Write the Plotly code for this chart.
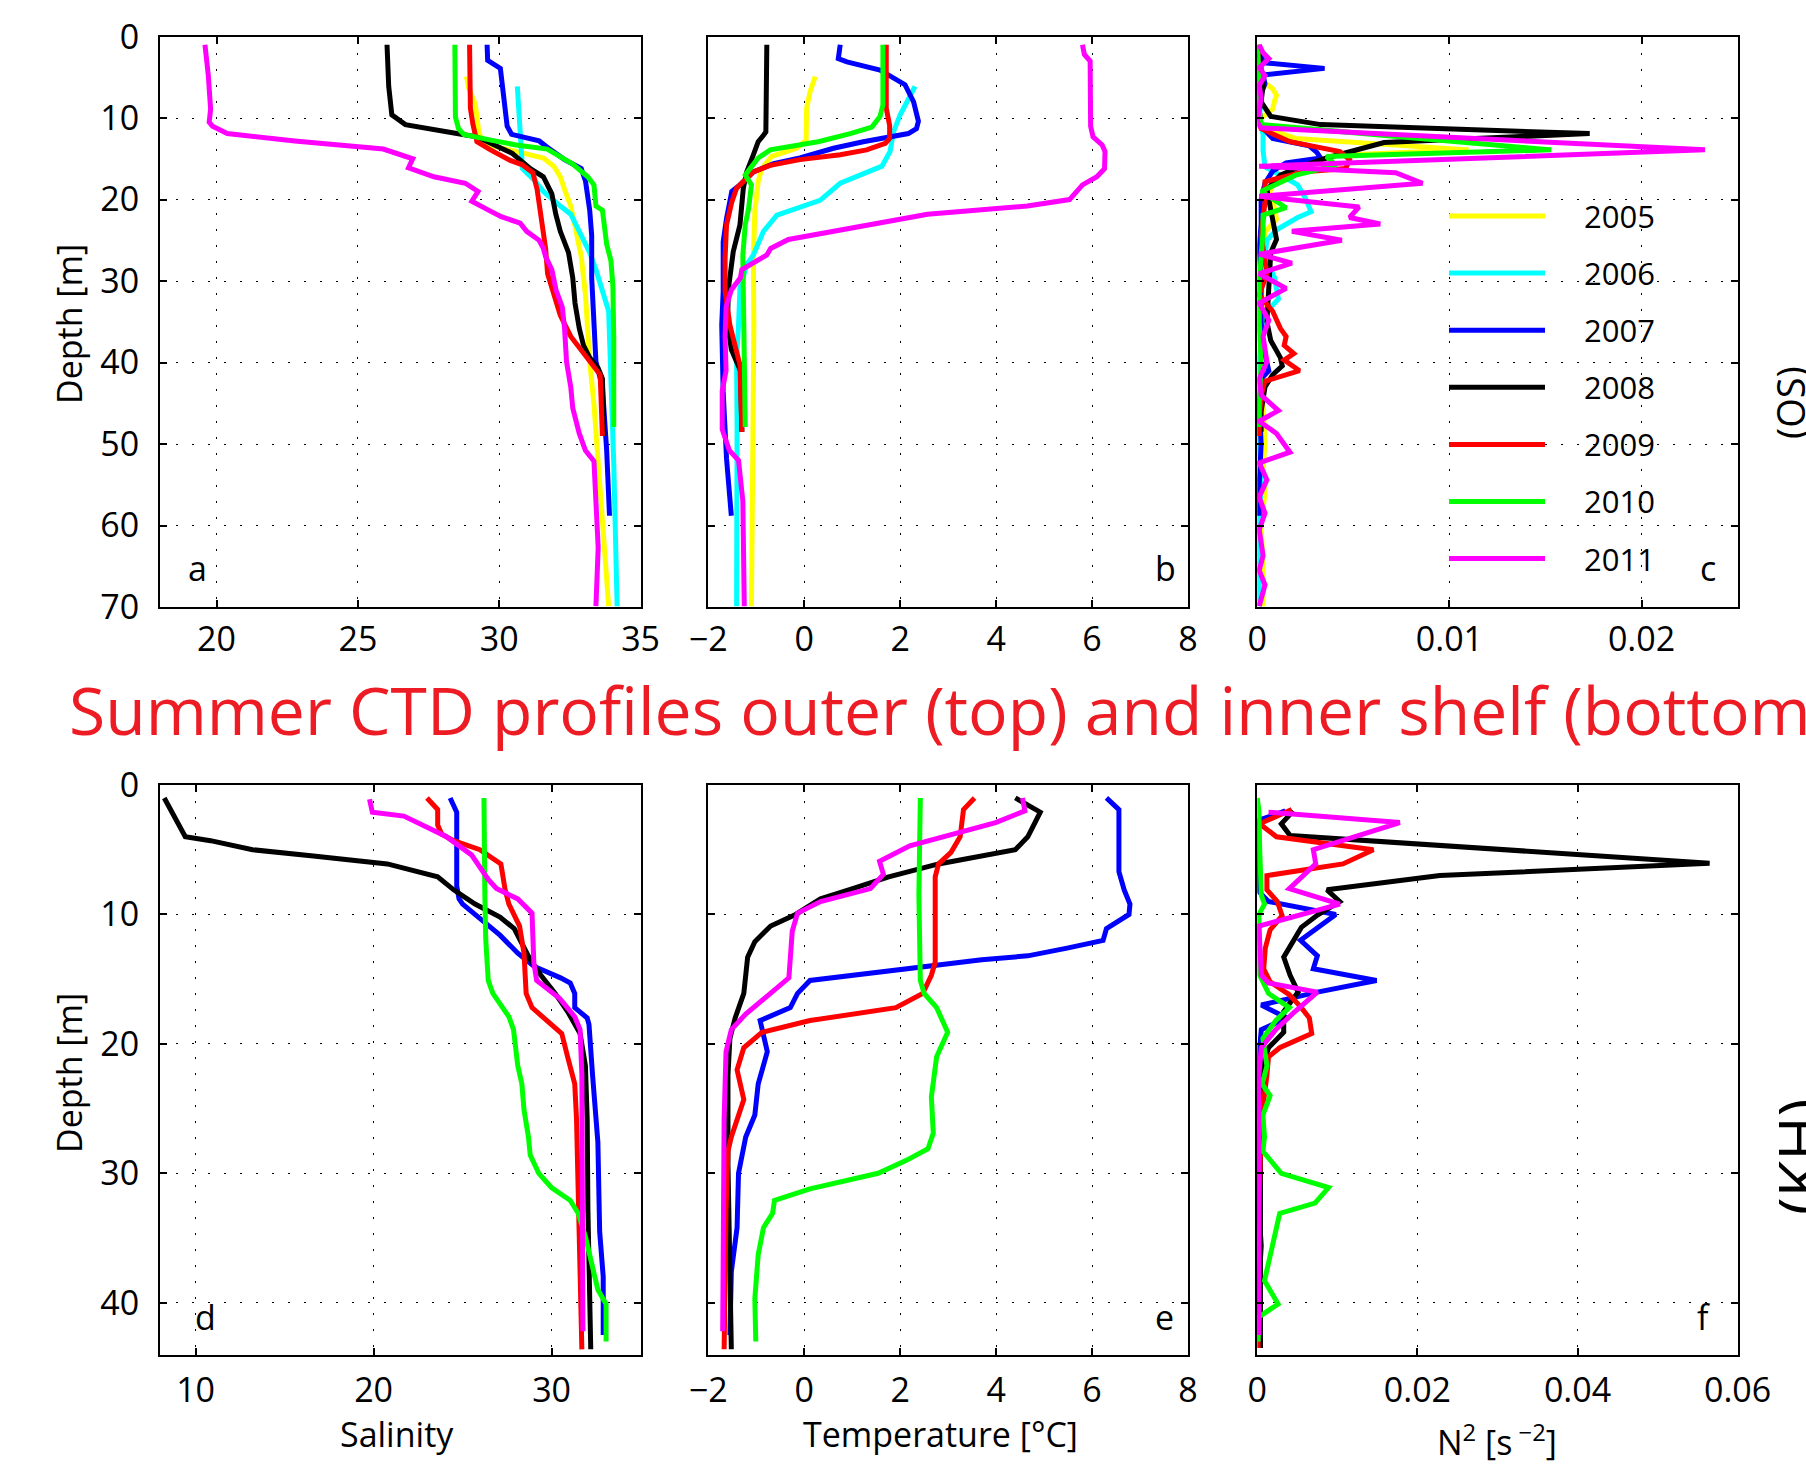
import plotly.graph_objects as go

# ---------------------------------------------------------------------------
# Summer CTD profiles, outer shelf (OS, top row) and inner shelf (KH, bottom)
# Each profile is a list of [depth (m), value] pairs.
# ---------------------------------------------------------------------------

YEARS_OS = [2005, 2006, 2007, 2008, 2009, 2010, 2011]
YEARS_KH = [2007, 2008, 2009, 2010, 2011]
YEAR_COLORS = {2005: "#ffff00", 2006: "#00ffff", 2007: "#0000ff", 2008: "#000000",
               2009: "#ff0000", 2010: "#00ff00", 2011: "#ff00ff"}

# ---- outer shelf: salinity ----
os_sal_2005 = [[4.9, 28.84], [6.3, 28.92], [8.3, 29.15], [11.5, 29.27], [13.1, 29.4], [14.1, 30.67],
               [14.9, 31.56], [15.9, 31.93], [17.2, 32.16], [18.75, 32.31], [20.8, 32.53], [24.4, 32.75],
               [27.0, 32.9], [31.7, 33.05], [39.9, 33.2], [45.1, 33.35], [52.3, 33.5], [60.0, 33.68],
               [69.9, 33.87]]
os_sal_2006 = [[6.1, 30.64], [12.0, 30.74], [16.2, 30.82], [17.7, 31.26], [19.0, 31.56], [20.8, 32.16],
               [21.8, 32.53], [24.4, 32.9], [26.5, 33.2], [28.6, 33.42], [31.7, 33.72], [33.7, 33.87],
               [42.0, 33.95], [52.3, 34.05], [69.9, 34.17]]
os_sal_2007 = [[1.0, 29.57], [2.9, 29.59], [3.9, 30.04], [5.6, 30.1], [8.8, 30.22], [11.0, 30.28],
               [12.0, 30.44], [12.8, 31.41], [13.6, 31.71], [15.1, 32.31], [16.2, 32.9], [17.7, 33.05],
               [21.3, 33.2], [24.4, 33.27], [29.6, 33.27], [36.8, 33.35], [39.9, 33.42], [43.0, 33.65],
               [50.8, 33.8], [58.8, 33.9]]
os_sal_2008 = [[1.0, 26.03], [6.1, 26.09], [9.6, 26.2], [10.8, 26.68], [11.9, 28.5], [12.3, 29.2],
               [14.3, 30.45], [16.2, 31.1], [17.2, 31.56], [19.3, 31.86], [21.8, 32.0], [23.9, 32.16],
               [26.5, 32.45], [29.6, 32.6], [32.7, 32.68], [35.8, 32.83], [37.9, 32.98], [39.4, 33.2],
               [40.7, 33.5], [42.0, 33.65], [49.0, 33.7]]
os_sal_2009 = [[1.0, 28.95], [8.8, 28.98], [10.8, 29.07], [12.9, 29.21], [13.9, 29.69], [15.2, 30.39],
               [15.7, 30.8], [16.7, 31.19], [18.75, 31.34], [22.4, 31.49], [26.0, 31.64], [29.1, 31.71],
               [31.7, 31.93], [34.2, 32.16], [36.8, 32.53], [38.9, 32.98], [40.4, 33.35], [41.5, 33.57],
               [49.0, 33.65]]
os_sal_2010 = [[1.0, 28.43], [9.9, 28.45], [11.3, 28.56], [12.0, 28.75], [12.7, 29.7], [13.3, 30.6],
               [13.8, 31.7], [15.65, 32.6], [17.2, 33.13], [18.2, 33.35], [20.8, 33.42], [21.3, 33.65],
               [25.5, 33.8], [27.5, 33.95], [30.6, 34.02], [36.8, 34.05], [47.9, 34.05]]
os_sal_2011 = [[1.0, 19.59], [4.8, 19.71], [8.9, 19.79], [10.5, 19.74], [11.0, 19.86], [11.9, 20.38],
               [12.8, 22.77], [13.8, 25.9], [15.0, 26.94], [16.1, 26.79], [17.2, 27.69], [18.0, 28.8],
               [19.0, 29.25], [20.2, 29.03], [21.3, 29.62], [22.1, 30.07], [22.9, 30.74], [23.9, 30.97],
               [25.0, 31.41], [26.0, 31.56], [27.0, 31.64], [28.6, 31.86], [31.1, 32.01], [33.2, 32.23],
               [35.8, 32.31], [39.9, 32.38], [43.0, 32.53], [45.6, 32.6], [48.7, 32.83], [50.8, 33.05],
               [52.1, 33.35], [57.5, 33.42], [62.7, 33.5], [69.9, 33.42]]

# ---- outer shelf: temperature (deg C) ----
os_tem_2005 = [[4.9, 0.23], [6.8, 0.12], [8.8, 0.05], [12.7, 0.04], [13.7, -0.16], [14.7, -0.68],
               [16.2, -0.89], [17.8, -0.96], [21.5, -1.03], [27.2, -1.06], [35.4, -1.05], [43.6, -1.06],
               [55.0, -1.07], [69.9, -1.1]]
os_tem_2006 = [[6.1, 2.31], [9.6, 2.0], [11.7, 1.86], [14.1, 1.79], [15.9, 1.62], [18.0, 0.75],
               [20.1, 0.33], [21.9, -0.57], [23.9, -0.85], [26.8, -1.06], [28.0, -1.2], [30.9, -1.34],
               [35.4, -1.37], [39.5, -1.41], [47.6, -1.4], [69.9, -1.41]]
os_tem_2007 = [[1.0, 0.75], [2.7, 0.71], [3.1, 0.89], [4.1, 1.58], [5.9, 2.1], [8.0, 2.28], [10.4, 2.38],
               [11.3, 2.34], [11.9, 2.17], [12.5, 1.51], [12.9, 1.23], [13.7, 0.61], [14.9, -0.09],
               [15.6, -0.64], [16.6, -1.06], [18.2, -1.34], [19.0, -1.51], [22.3, -1.62], [25.2, -1.69],
               [31.3, -1.69], [35.4, -1.72], [43.6, -1.69], [51.8, -1.62], [58.8, -1.52]]
os_tem_2008 = [[1.0, -0.78], [11.7, -0.8], [12.1, -0.85], [12.9, -0.96], [14.5, -1.06], [16.6, -1.2],
               [18.6, -1.27], [23.1, -1.34], [26.4, -1.48], [30.9, -1.58], [35.0, -1.6], [38.4, -1.52],
               [39.9, -1.41], [41.0, -1.33], [48.5, -1.3]]
os_tem_2009 = [[1.0, 1.71], [8.8, 1.71], [10.9, 1.78], [12.5, 1.78], [13.1, 1.69], [13.9, 1.3],
               [14.5, 0.75], [15.1, -0.09], [15.8, -0.71], [16.6, -1.06], [17.4, -1.2], [18.6, -1.41],
               [20.3, -1.51], [23.1, -1.62], [27.2, -1.65], [31.3, -1.65], [35.4, -1.55], [37.8, -1.44],
               [40.3, -1.34], [48.5, -1.3]]
os_tem_2010 = [[1.0, 1.64], [8.4, 1.64], [9.8, 1.58], [11.1, 1.41], [11.9, 0.96], [12.9, 0.29],
               [13.9, -0.71], [14.9, -0.96], [16.2, -1.13], [17.0, -1.23], [18.2, -1.1], [21.1, -1.16],
               [23.1, -1.23], [26.8, -1.28], [31.3, -1.27], [39.5, -1.25], [47.9, -1.23]]
os_tem_2011 = [[1.0, 5.8], [2.2, 5.84], [3.0, 5.96], [11.0, 5.97], [12.3, 6.02], [13.3, 6.21],
               [14.1, 6.27], [16.2, 6.26], [17.2, 6.1], [18.2, 5.8], [20.0, 5.53], [20.8, 4.65],
               [21.8, 2.57], [23.4, 1.08], [24.9, -0.33], [26.0, -0.7], [26.8, -0.78], [28.6, -1.3],
               [29.6, -1.33], [31.1, -1.52], [33.2, -1.63], [36.8, -1.65], [41.0, -1.63], [43.5, -1.71],
               [48.2, -1.71], [50.8, -1.56], [52.0, -1.37], [57.0, -1.28], [69.9, -1.25]]

# ---- outer shelf: buoyancy frequency squared N^2 (s^-2) ----
os_n2_2005 = [[4.5, 0.0], [5.5, 0.0003], [6.4, 0.0008], [7.2, 0.001], [7.9, 0.0009], [8.9, 0.0008],
              [10.0, 0.0002], [11.0, 0.0001], [12.5, 0.002], [13.9, 0.011], [14.6, 0.004], [15.8, 0.0025],
              [17.2, 0.0018], [18.0, 0.0008], [19.5, 0.0006], [21.0, 0.0009], [22.4, 0.001], [24.0, 0.0004],
              [26.0, 0.0003], [30.0, 0.0002], [35.0, 0.0003], [40.0, 0.0002], [45.0, 0.0003], [50.0, 0.0004],
              [53.0, 0.0003], [56.0, 0.0004], [60.0, 0.0002], [65.0, 0.0003], [69.9, 0.0003]]
os_n2_2006 = [[6.5, 0.0001], [8.0, 0.0002], [10.0, 0.0001], [12.0, 0.0003], [14.0, 0.0003], [16.0, 0.0004],
              [17.0, 0.0012], [18.2, 0.0021], [19.8, 0.0025], [21.5, 0.0028], [22.2, 0.0021], [23.7, 0.001],
              [25.0, 0.0005], [27.0, 0.0004], [29.6, 0.0009], [32.2, 0.0011], [34.0, 0.0004], [37.0, 0.0002],
              [40.0, 0.0001], [45.0, 0.0002], [50.0, 0.0001], [55.0, 0.0002], [60.0, 0.0001], [65.0, 0.0001],
              [69.9, 0.0001]]
os_n2_2007 = [[2.0, 0.0002], [3.2, 0.0003], [3.9, 0.0035], [4.7, 0.0003], [5.8, 0.0004], [7.0, 0.0002],
              [9.0, 0.0001], [11.0, 0.0002], [12.5, 0.0008], [13.4, 0.0027], [14.2, 0.0031], [14.9, 0.0033],
              [15.5, 0.0015], [16.5, 0.0008], [18.0, 0.0004], [20.0, 0.0002], [23.0, 0.0002], [26.0, 0.0001],
              [30.0, 0.0002], [35.0, 0.0002], [38.0, 0.0003], [41.0, 0.0006], [42.0, 0.0002], [45.0, 0.0001],
              [50.0, 0.0002], [55.0, 0.0001], [58.8, 0.0001]]
os_n2_2008 = [[2.0, 0.0001], [4.0, 0.0002], [6.0, 0.0003], [8.0, 0.0002], [9.8, 0.0007], [10.8, 0.0033],
              [11.9, 0.0173], [13.0, 0.0066], [14.9, 0.0036], [16.0, 0.0022], [17.0, 0.0012], [18.8, 0.0005],
              [21.5, 0.0007], [23.0, 0.0008], [24.9, 0.001], [26.5, 0.0007], [31.7, 0.0006], [35.0, 0.0005],
              [37.3, 0.0007], [39.4, 0.0012], [40.4, 0.0013], [41.5, 0.0008], [43.0, 0.0004], [46.0, 0.0002],
              [48.5, 0.0002]]
os_n2_2009 = [[1.0, 0.0], [5.0, 0.0001], [9.0, 0.0001], [11.3, 0.0002], [12.9, 0.0017], [14.1, 0.0043],
              [15.1, 0.0048], [16.2, 0.0046], [16.6, 0.0024], [17.8, 0.0004], [20.3, 0.0004], [24.4, 0.0002],
              [29.1, 0.0005], [31.7, 0.0001], [33.7, 0.0008], [35.8, 0.0012], [36.8, 0.0015], [37.9, 0.0014],
              [38.9, 0.0019], [39.7, 0.0014], [41.0, 0.0022], [42.3, 0.0004], [44.0, 0.0002], [47.0, 0.0001],
              [49.0, 0.0001]]
os_n2_2010 = [[1.0, 0.0], [5.0, 0.0001], [9.0, 0.0001], [10.8, 0.0002], [13.9, 0.0153], [14.7, 0.0036],
              [15.8, 0.0041], [17.0, 0.002], [19.0, 0.0002], [21.0, 0.0015], [21.9, 0.0003], [24.0, 0.0003],
              [27.0, 0.0002], [30.0, 0.0001], [35.0, 0.0001], [40.0, 0.0002], [45.0, 0.0001], [47.9, 0.0001]]
os_n2_2011 = [[1.0, 0.0001], [2.0, 0.0003], [2.7, 0.0006], [3.8, 0.0001], [4.8, 0.0004], [6.0, 0.0001],
              [7.5, 0.0002], [9.0, 0.0001], [10.5, 0.0], [11.2, 0.0002], [13.9, 0.0233], [15.9, 0.0001],
              [16.7, 0.0072], [18.0, 0.0086], [19.6, 0.0001], [20.9, 0.0053], [22.2, 0.0048], [23.0, 0.0064],
              [23.9, 0.0018], [25.0, 0.0044], [26.7, 0.0001], [27.8, 0.0018], [29.1, 0.0001], [30.9, 0.0015],
              [32.7, 0.0001], [34.8, 0.0006], [36.8, 0.0003], [39.9, 0.0005], [42.0, 0.0001], [44.0, 0.0002],
              [45.9, 0.0011], [47.2, 0.0001], [48.7, 0.001], [51.0, 0.0017], [52.3, 0.0001], [54.4, 0.0005],
              [56.5, 0.0001], [58.5, 0.0004], [60.5, 0.0001], [63.7, 0.0003], [65.5, 0.0001], [67.3, 0.0004],
              [69.9, 0.0001]]

# ---- inner shelf: salinity ----
kh_sal_2007 = [[1.0, 24.3], [2.1, 24.67], [7.8, 24.67], [8.8, 24.8], [9.2, 25.0], [10.6, 26.2],
               [11.6, 27.1], [13.0, 28.1], [14.0, 29.0], [14.9, 30.5], [15.3, 31.05], [16.1, 31.3],
               [17.2, 31.3], [18.0, 32.0], [18.5, 32.1], [22.4, 32.3], [25.5, 32.5], [27.6, 32.6],
               [34.5, 32.7], [38.0, 32.9], [42.5, 32.9]]
kh_sal_2008 = [[1.0, 8.24], [2.9, 8.95], [4.0, 9.42], [4.3, 10.84], [5.0, 13.2], [5.5, 16.75],
               [6.1, 20.77], [7.1, 23.6], [8.1, 24.5], [9.2, 25.7], [10.2, 27.1], [11.1, 27.9],
               [13.5, 28.8], [14.7, 29.4], [16.1, 30.2], [17.5, 30.9], [19.2, 31.6], [21.7, 31.9],
               [25.8, 32.0], [32.8, 32.04], [39.7, 32.1], [43.6, 32.2]]
kh_sal_2009 = [[1.0, 23.0], [1.9, 23.6], [3.1, 23.6], [3.8, 23.83], [4.3, 24.5], [5.0, 25.97],
               [6.1, 27.15], [8.1, 27.39], [9.2, 27.6], [10.9, 28.2], [13.0, 28.45], [16.1, 28.57],
               [17.2, 28.9], [18.2, 29.75], [19.2, 30.57], [21.0, 30.9], [23.1, 31.3], [25.8, 31.4],
               [32.8, 31.5], [43.6, 31.7]]
kh_sal_2010 = [[1.0, 26.2], [6.4, 26.2], [8.5, 26.25], [11.9, 26.3], [15.1, 26.44], [16.1, 26.7],
               [17.2, 27.3], [17.9, 27.6], [18.9, 27.86], [21.7, 28.1], [23.1, 28.33], [25.1, 28.45],
               [27.2, 28.7], [28.6, 28.8], [30.0, 29.28], [31.1, 29.99], [32.1, 31.05], [33.1, 31.5],
               [34.9, 31.9], [37.3, 32.35], [39.0, 32.6], [40.1, 33.06], [43.0, 33.06]]
kh_sal_2011 = [[1.1, 19.77], [2.1, 19.93], [2.4, 21.7], [3.97, 24.07], [5.4, 25.5], [7.3, 26.44],
               [8.0, 26.9], [8.8, 28.1], [9.9, 28.9], [13.7, 29.0], [15.1, 29.16], [16.5, 30.46],
               [17.9, 31.3], [18.9, 31.6], [22.4, 31.7], [32.8, 31.76], [42.2, 31.76]]

# ---- inner shelf: temperature (deg C) ----
kh_tem_2007 = [[1.0, 6.3], [1.9, 6.56], [6.7, 6.56], [8.1, 6.67], [9.2, 6.79], [10.0, 6.77], [11.1, 6.3],
               [12.0, 6.23], [12.6, 5.48], [13.2, 4.66], [13.5, 3.7], [14.2, 2.2], [15.1, 0.12],
               [16.1, -0.14], [17.2, -0.29], [18.2, -0.92], [19.2, -0.85], [20.6, -0.77], [23.1, -0.96],
               [25.5, -1.03], [27.2, -1.22], [30.0, -1.37], [34.2, -1.4], [37.6, -1.52], [42.5, -1.55]]
kh_tem_2008 = [[1.0, 4.4], [2.1, 4.92], [4.0, 4.66], [5.0, 4.4], [6.1, 2.8], [7.1, 1.76], [8.0, 1.01],
               [8.8, 0.34], [10.0, -0.18], [10.9, -0.7], [12.1, -1.03], [13.3, -1.18], [16.1, -1.26],
               [18.0, -1.44], [19.6, -1.55], [22.4, -1.59], [29.3, -1.59], [36.3, -1.55], [43.6, -1.52]]
kh_tem_2009 = [[1.0, 3.55], [1.9, 3.32], [4.0, 3.25], [5.2, 3.06], [6.1, 2.8], [7.1, 2.73], [11.3, 2.73],
               [13.7, 2.73], [14.7, 2.65], [16.1, 2.47], [17.2, 1.91], [18.2, 0.12], [19.1, -0.88],
               [20.3, -1.26], [22.0, -1.4], [24.3, -1.26], [27.2, -1.52], [28.3, -1.59], [32.8, -1.63],
               [43.6, -1.67]]
kh_tem_2010 = [[1.0, 2.42], [8.5, 2.39], [15.1, 2.42], [16.1, 2.5], [17.2, 2.76], [19.1, 2.99],
               [21.0, 2.76], [24.1, 2.65], [26.9, 2.69], [28.1, 2.58], [29.0, 2.13], [30.0, 1.54],
               [31.2, 0.12], [32.1, -0.62], [33.1, -0.66], [34.2, -0.85], [36.3, -0.96], [39.7, -1.03],
               [43.0, -1.01]]
kh_tem_2011 = [[1.0, 4.55], [2.0, 4.6], [2.9, 3.99], [4.0, 2.87], [4.7, 2.2], [5.9, 1.57], [6.9, 1.65],
               [8.0, 1.38], [9.0, 0.34], [9.9, -0.14], [11.3, -0.25], [14.9, -0.32], [16.1, -0.7],
               [17.7, -1.22], [18.9, -1.52], [20.6, -1.63], [25.8, -1.67], [32.8, -1.68], [42.2, -1.7]]

# ---- inner shelf: N^2 (s^-2) ----
kh_n2_2007 = [[2.0, 0.0035], [2.7, 0.0003], [3.5, 0.0001], [5.0, 0.0001], [7.0, 0.0001], [8.3, 0.0003],
              [9.0, 0.0014], [10.0, 0.0098], [12.0, 0.0054], [13.2, 0.0075], [14.2, 0.007], [15.1, 0.0149],
              [16.0, 0.0075], [17.0, 0.0005], [18.0, 0.0037], [18.9, 0.0005], [20.3, 0.0003], [23.0, 0.0002],
              [26.0, 0.0003], [30.0, 0.0002], [33.0, 0.0002], [35.6, 0.0005], [37.5, 0.0003], [40.0, 0.0002],
              [42.5, 0.0002]]
kh_n2_2008 = [[2.0, 0.0045], [3.0, 0.003], [3.9, 0.0041], [6.05, 0.0565], [7.0, 0.0228], [8.1, 0.0087],
              [9.0, 0.0103], [10.1, 0.0074], [11.0, 0.0055], [12.1, 0.0045], [13.3, 0.0033], [14.7, 0.0041],
              [16.0, 0.0051], [17.5, 0.0033], [19.1, 0.0033], [20.3, 0.0014], [21.7, 0.0007], [23.1, 0.0004],
              [30.0, 0.0004], [37.0, 0.0003], [43.5, 0.0004]]
kh_n2_2009 = [[1.9, 0.0043], [3.0, 0.0003], [4.0, 0.0024], [5.0, 0.0145], [6.1, 0.0107], [7.0, 0.0012],
              [8.1, 0.0012], [9.0, 0.0025], [10.1, 0.0031], [11.2, 0.0016], [12.6, 0.001], [14.2, 0.0008],
              [15.2, 0.0016], [16.2, 0.004], [17.2, 0.0055], [18.0, 0.0065], [19.2, 0.0068], [20.3, 0.0028],
              [21.0, 0.0014], [22.4, 0.0012], [25.9, 0.0005], [32.8, 0.0002], [43.5, 0.0001]]
kh_n2_2010 = [[1.0, 0.0], [2.0, 0.0002], [5.0, 0.0003], [8.5, 0.0005], [9.2, 0.0009], [10.0, 0.0002],
              [14.7, 0.0003], [16.1, 0.0014], [17.2, 0.004], [18.2, 0.0023], [19.6, 0.0007], [21.7, 0.0012],
              [23.1, 0.0006], [24.0, 0.0016], [25.5, 0.0007], [27.2, 0.0009], [28.3, 0.0007], [30.0, 0.003],
              [31.1, 0.0089], [32.3, 0.0072], [33.1, 0.0028], [35.6, 0.0019], [37.3, 0.0012], [38.3, 0.0009],
              [40.1, 0.0026], [41.1, 0.0002], [43.0, 0.0001]]
kh_n2_2011 = [[2.1, 0.0014], [2.9, 0.0178], [5.0, 0.007], [6.1, 0.0073], [8.0, 0.004], [9.2, 0.0103],
              [10.9, 0.0002], [14.7, 0.0005], [15.3, 0.0014], [16.0, 0.0075], [17.5, 0.0047], [18.9, 0.0023],
              [20.3, 0.0005], [22.4, 0.0002], [30.0, 0.0002], [42.5, 0.0002]]

# tables used for plotting, one per panel
OS_SAL = {2005: os_sal_2005, 2006: os_sal_2006, 2007: os_sal_2007, 2008: os_sal_2008,
          2009: os_sal_2009, 2010: os_sal_2010, 2011: os_sal_2011}
OS_TEM = {2005: os_tem_2005, 2006: os_tem_2006, 2007: os_tem_2007, 2008: os_tem_2008,
          2009: os_tem_2009, 2010: os_tem_2010, 2011: os_tem_2011}
OS_N2 = {2005: os_n2_2005, 2006: os_n2_2006, 2007: os_n2_2007, 2008: os_n2_2008,
         2009: os_n2_2009, 2010: os_n2_2010, 2011: os_n2_2011}
KH_SAL = {2007: kh_sal_2007, 2008: kh_sal_2008, 2009: kh_sal_2009, 2010: kh_sal_2010, 2011: kh_sal_2011}
KH_TEM = {2007: kh_tem_2007, 2008: kh_tem_2008, 2009: kh_tem_2009, 2010: kh_tem_2010, 2011: kh_tem_2011}
KH_N2 = {2007: kh_n2_2007, 2008: kh_n2_2008, 2009: kh_n2_2009, 2010: kh_n2_2010, 2011: kh_n2_2011}

# ---------------------------------------------------------------------------
# layout geometry (pixels)
# ---------------------------------------------------------------------------
FIG_W, FIG_H = 1806, 1464
COLS = [(160.0, 640.6), (708.3, 1188.0), (1257.3, 1737.6)]
ROWS = [(36.6, 607.0), (785.0, 1354.5)]
FONT = "Open Sans"
TICK_SIZE = 34
LINE_W = 5


def fx(p):
    return p / FIG_W


def fy(p):
    return 1 - p / FIG_H


PANELS = [
    # (axis suffix, column, row, data table, years, x range, dtick, y range)
    ("", 0, 0, OS_SAL, YEARS_OS, [18, 35], 5, [70, 0]),
    ("2", 1, 0, OS_TEM, YEARS_OS, [-2, 8], 2, [70, 0]),
    ("3", 2, 0, OS_N2, YEARS_OS, [0, 0.025], 0.01, [70, 0]),
    ("4", 0, 1, KH_SAL, YEARS_KH, [8, 35], 10, [44, 0]),
    ("5", 1, 1, KH_TEM, YEARS_KH, [-2, 8], 2, [44, 0]),
    ("6", 2, 1, KH_N2, YEARS_KH, [0, 0.06], 0.02, [44, 0]),
]

fig = go.Figure()

axis_common = dict(
    showline=True, linecolor="black", linewidth=2, mirror="ticks",
    ticks="inside", ticklen=7, tickwidth=1.5, tickcolor="black",
    showgrid=True, gridcolor="black", gridwidth=1, griddash="2px,14px",
    zeroline=False, automargin=False,
    tickfont=dict(family=FONT, size=TICK_SIZE, color="black"),
)

annotations = []
for suffix, col, row, table, years, xr, dt, yr in PANELS:
    for yr_ in years:
        prof = table[yr_]
        fig.add_trace(go.Scatter(
            x=[p[1] for p in prof], y=[p[0] for p in prof], mode="lines",
            line=dict(color=YEAR_COLORS[yr_], width=LINE_W),
            xaxis="x" + suffix, yaxis="y" + suffix, showlegend=False, hoverinfo="skip",
        ))
    x0, x1 = COLS[col]
    y0, y1 = ROWS[row]
    fig.layout["xaxis" + suffix] = dict(
        axis_common, domain=[fx(x0), fx(x1)], range=xr, tick0=0, dtick=dt,
        anchor="y" + suffix, ticklabelstandoff=(1 if row == 0 else 5),
    )
    fig.layout["yaxis" + suffix] = dict(
        axis_common, domain=[fy(y1), fy(y0)], range=yr, tick0=0, dtick=10,
        anchor="x" + suffix, showticklabels=(col == 0), ticklabelstandoff=12,
    )

# panel letters
LETTER_POS = {"a": (197.8, 568), "b": (1165, 568), "c": (1707.7, 568),
              "d": (205.4, 1317), "e": (1164, 1317), "f": (1703, 1317)}
for letter, (lx, ly) in LETTER_POS.items():
    annotations.append(dict(text=letter, x=fx(lx), y=fy(ly), xref="paper", yref="paper",
                            xanchor="center", yanchor="middle", showarrow=False,
                            font=dict(family=FONT, size=TICK_SIZE, color="black")))

# axis titles
label_font = dict(family=FONT, size=TICK_SIZE, color="black")
for ty in (324, 1073):
    annotations.append(dict(text="Depth [m]", x=fx(69), y=fy(ty), xref="paper", yref="paper",
                            textangle=-90, xanchor="center", yanchor="middle", showarrow=False,
                            font=label_font))
annotations.append(dict(text="Salinity", x=fx(397), y=fy(1434), xref="paper", yref="paper",
                        xanchor="center", yanchor="middle", showarrow=False, font=label_font))
annotations.append(dict(text="Temperature [°C]", x=fx(940), y=fy(1434), xref="paper", yref="paper",
                        xanchor="center", yanchor="middle", showarrow=False, font=label_font))
annotations.append(dict(text="N<sup>2</sup> [s<sup> −2</sup>]", x=fx(1497), y=fy(1440),
                        xref="paper", yref="paper", xanchor="center", yanchor="middle",
                        showarrow=False, font=label_font))

# figure title between the two rows
annotations.append(dict(text="Summer CTD profiles outer (top) and inner shelf (bottom)",
                        x=fx(67), y=fy(709), xref="paper", yref="paper",
                        xanchor="left", yanchor="middle", showarrow=False,
                        font=dict(family=FONT, size=66, color="#ed1c24")))

# shelf labels on the right edge (partly running off the page)
for txt, cx, cy, size in (("(OS)", 1762, 403, 38), ("(KH)", 1756, 1157, 60)):
    annotations.append(dict(text=txt, x=fx(cx), y=fy(cy), xref="paper", yref="paper",
                            textangle=-90, xanchor="left", yanchor="middle", showarrow=False,
                            font=dict(family=FONT, size=size, color="black")))

# year key inside panel c
KEY_X0, KEY_X1, KEY_TX = 1449, 1545, 1582
KEY_Y0, KEY_DY = 216, 57.1
shapes = []
for i, yr_ in enumerate(YEARS_OS):
    ky = KEY_Y0 + i * KEY_DY
    shapes.append(dict(type="line", xref="paper", yref="paper",
                       x0=fx(KEY_X0), x1=fx(KEY_X1), y0=fy(ky), y1=fy(ky),
                       line=dict(color=YEAR_COLORS[yr_], width=5)))
    annotations.append(dict(text=str(yr_), x=fx(KEY_TX), y=fy(ky), xref="paper", yref="paper",
                            xanchor="left", yanchor="middle", showarrow=False,
                            font=dict(family=FONT, size=31, color="black")))

fig.update_layout(
    width=FIG_W, height=FIG_H, margin=dict(l=0, r=0, t=0, b=0, pad=0),
    paper_bgcolor="white", plot_bgcolor="white", showlegend=False,
    annotations=annotations, shapes=shapes,
)

fig.write_html("out.html")
